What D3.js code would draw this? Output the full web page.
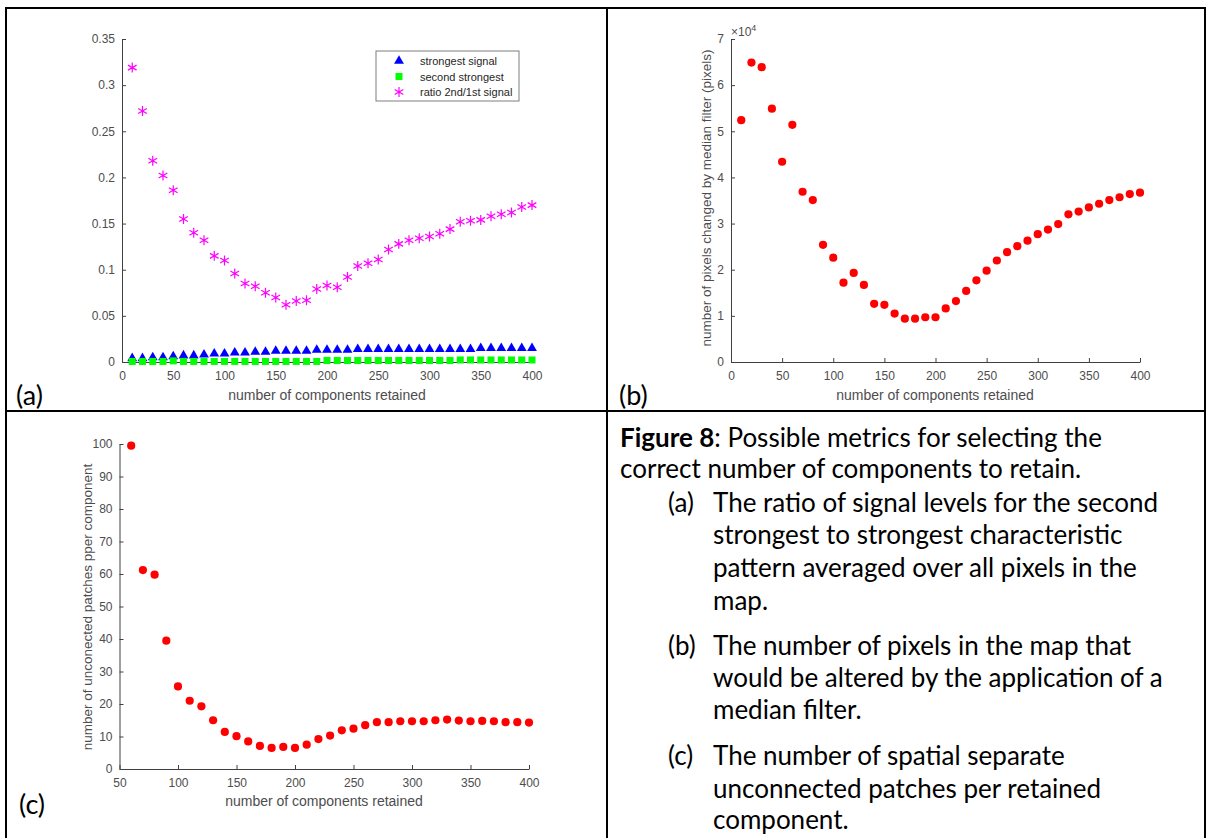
<!DOCTYPE html>
<html>
<head>
<meta charset="utf-8">
<script src="https://d3js.org/d3.v7.min.js"></script>
<style>
  body { margin: 0; background: #fff; }
  svg text { font-family: "Liberation Sans", Arial, sans-serif; }
  .tick text { fill: #4d4d4d; font-size: 12px; }
  .tick line, .domain { stroke: #404040; }
  .cap { font-family: Lato, "Open Sans", sans-serif !important; fill: #000; }
</style>
</head>
<body>
<svg id="fig" width="1207" height="838"></svg>
<script>
// ---- data: panel (a) ----
var compsA = d3.range(10, 401, 10);
var ratioA = [0.319, 0.272, 0.218, 0.202, 0.186, 0.155, 0.140, 0.132, 0.115, 0.110,
              0.096, 0.085, 0.082, 0.075, 0.070, 0.062, 0.066, 0.067, 0.079, 0.083,
              0.081, 0.092, 0.104, 0.107, 0.111, 0.122, 0.128, 0.132, 0.134, 0.136,
              0.139, 0.144, 0.152, 0.153, 0.154, 0.158, 0.160, 0.162, 0.168, 0.170];
var strongA = [0.004, 0.004, 0.005, 0.005, 0.006, 0.007, 0.007, 0.008, 0.009, 0.009,
               0.010, 0.010, 0.011, 0.011, 0.012, 0.012, 0.012, 0.012, 0.013, 0.013,
               0.013, 0.013, 0.014, 0.014, 0.014, 0.014, 0.014, 0.014, 0.014, 0.014,
               0.014, 0.014, 0.014, 0.014, 0.015, 0.015, 0.015, 0.015, 0.015, 0.015];
var secondA = [0.0006, 0.0006, 0.0006, 0.0006, 0.0012, 0.0006, 0.0006, 0.0006, 0.0006, 0.0006,
               0.0006, 0.0006, 0.0006, 0.0006, 0.0006, 0.0006, 0.0006, 0.0006, 0.0006, 0.0016,
               0.0016, 0.0016, 0.0016, 0.0016, 0.0016, 0.0016, 0.0016, 0.0016, 0.0016, 0.0016,
               0.0016, 0.0016, 0.0022, 0.0022, 0.0022, 0.0022, 0.0022, 0.0022, 0.0022, 0.0022];
var legendA = ["strongest signal", "second strongest", "ratio 2nd/1st signal"];

// ---- data: panel (b), units of 10^4 pixels ----
var compsB = d3.range(10, 401, 10);
var pixelsB = [5.24, 6.49, 6.39, 5.49, 4.34, 5.14, 3.69, 3.51, 2.54, 2.26,
               1.72, 1.93, 1.67, 1.26, 1.24, 1.05, 0.94, 0.94, 0.97, 0.97,
               1.16, 1.32, 1.54, 1.77, 1.98, 2.20, 2.38, 2.51, 2.63, 2.77,
               2.87, 2.99, 3.20, 3.26, 3.35, 3.43, 3.51, 3.57, 3.64, 3.67];

// ---- data: panel (c) ----
var compsC = d3.range(60, 401, 10);
var patchesC = [99.5, 61.2, 59.8, 39.5, 25.4, 21.0, 19.3, 15.0, 11.4, 10.1,
                8.5, 7.1, 6.5, 6.8, 6.5, 7.5, 9.2, 10.3, 11.9, 12.4,
                13.5, 14.4, 14.4, 14.7, 14.7, 14.7, 15.0, 15.2, 14.9, 14.7,
                14.8, 14.7, 14.4, 14.4, 14.3];

// caption text, one entry per printed line
var capLines = [
  { bold: "Figure 8", text: ": Possible metrics for selecting the" },
  { text: "correct number of components to retain." },
  { label: "(a)", text: "The ratio of signal levels for the second" },
  { text: "strongest to strongest characteristic" },
  { text: "pattern averaged over all pixels in the" },
  { text: "map." },
  { label: "(b)", text: "The number of pixels in the map that" },
  { text: "would be altered by the application of a" },
  { text: "median filter." },
  { label: "(c)", text: "The number of spatial separate" },
  { text: "unconnected patches per retained" },
  { text: "component." }
];
var capY = [447, 478, 512, 544, 577, 610, 655, 687, 719, 765, 798, 829];

var svg = d3.select("#fig");

// table grid
var grid = svg.append("g").attr("stroke", "#000").attr("stroke-width", 2);
grid.append("line").attr("x1", 6).attr("x2", 6).attr("y1", 7).attr("y2", 838);
grid.append("line").attr("x1", 5).attr("x2", 1206).attr("y1", 8).attr("y2", 8);
grid.append("line").attr("x1", 1205).attr("x2", 1205).attr("y1", 7).attr("y2", 838);
grid.append("line").attr("x1", 607).attr("x2", 607).attr("y1", 7).attr("y2", 838);
grid.append("line").attr("x1", 5).attr("x2", 1206).attr("y1", 411).attr("y2", 411);

function drawAxes(x, y, xTicks, yTicks, yFmt, ox, oy) {
  svg.append("g")
      .attr("transform", "translate(0," + oy + ")")
      .call(d3.axisBottom(x).tickValues(xTicks).tickSizeInner(-4).tickSizeOuter(0).tickPadding(9));
  svg.append("g")
      .attr("transform", "translate(" + ox + ",0)")
      .call(d3.axisLeft(y).tickValues(yTicks).tickFormat(yFmt).tickSizeInner(-4).tickSizeOuter(0).tickPadding(7));
}

function xLabel(cx, yy) {
  svg.append("text").attr("x", cx).attr("y", yy)
     .attr("text-anchor", "middle").attr("fill", "#4d4d4d").style("font-size", "14px")
     .text("number of components retained");
}

function yLabel(xx, cy, txt) {
  svg.append("text").attr("transform", "translate(" + xx + "," + cy + ") rotate(-90)")
     .attr("text-anchor", "middle").attr("fill", "#4d4d4d").style("font-size", "13.5px")
     .text(txt);
}

function panelTag(xx, yy, txt) {
  svg.append("text").attr("class", "cap").attr("x", xx).attr("y", yy)
     .style("font-size", "27px").text(txt);
}

// ---- panel (a) ----
var xA = d3.scaleLinear().domain([0, 400]).range([122, 532]);
var yA = d3.scaleLinear().domain([0, 0.35]).range([362, 39]);
drawAxes(xA, yA, d3.range(0, 401, 50), d3.range(0, 0.351, 0.05),
         function (d) { return String(+d.toFixed(2)); }, 122, 362);

svg.append("g").selectAll("path").data(compsA).enter().append("path")
   .attr("transform", function (d, i) { return "translate(" + xA(d) + "," + yA(strongA[i]) + ")"; })
   .attr("d", d3.symbol(d3.symbolTriangle, 42)).attr("fill", "#0000ff");
svg.append("g").selectAll("rect").data(compsA).enter().append("rect")
   .attr("x", function (d) { return xA(d) - 3.5; })
   .attr("y", function (d, i) { return yA(secondA[i]) - 3.5; })
   .attr("width", 7).attr("height", 7).attr("fill", "#00ff00");
svg.append("g").selectAll("path").data(compsA).enter().append("path")
   .attr("transform", function (d, i) { return "translate(" + xA(d) + "," + yA(ratioA[i]) + ")"; })
   .attr("d", d3.symbol(d3.symbolAsterisk, 70)).attr("fill", "none")
   .attr("stroke", "#ff00ff").attr("stroke-width", 1.2);

// legend
var lg = svg.append("g");
lg.append("rect").attr("x", 376).attr("y", 51).attr("width", 143).attr("height", 50)
  .attr("fill", "#fff").attr("stroke", "#7f7f7f");
var ly = d3.scalePoint().domain(legendA).range([61, 92]);
lg.append("path").attr("transform", "translate(399," + ly(legendA[0]) + ")")
  .attr("d", d3.symbol(d3.symbolTriangle, 42)).attr("fill", "#0000ff");
lg.append("rect").attr("x", 395.5).attr("y", ly(legendA[1]) - 3.5).attr("width", 7).attr("height", 7)
  .attr("fill", "#00ff00");
lg.append("path").attr("transform", "translate(399," + ly(legendA[2]) + ")")
  .attr("d", d3.symbol(d3.symbolAsterisk, 70)).attr("fill", "none")
  .attr("stroke", "#ff00ff").attr("stroke-width", 1.2);
lg.selectAll("text").data(legendA).enter().append("text")
  .attr("x", 420).attr("y", function (d) { return ly(d) + 4; })
  .attr("fill", "#262626").style("font-size", "11px").text(function (d) { return d; });

xLabel(327, 400);
panelTag(16, 405, "(a)");

// ---- panel (b) ----
var xB = d3.scaleLinear().domain([0, 400]).range([731, 1140]);
var yB = d3.scaleLinear().domain([0, 7]).range([362, 39]);
drawAxes(xB, yB, d3.range(0, 401, 50), d3.range(0, 8, 1), d3.format("d"), 731, 362);
svg.append("g").selectAll("circle").data(compsB).enter().append("circle")
   .attr("cx", function (d) { return xB(d); })
   .attr("cy", function (d, i) { return yB(pixelsB[i]); })
   .attr("r", 4.1).attr("fill", "#ff0000");
var ex = svg.append("text").attr("x", 731).attr("y", 36).attr("fill", "#4d4d4d").style("font-size", "12px");
ex.append("tspan").text("\u00d710");
ex.append("tspan").attr("dy", -5).style("font-size", "9px").text("4");
yLabel(711, 198, "number of pixels changed by median filter (pixels)");
xLabel(935, 400);
panelTag(619, 405, "(b)");

// ---- panel (c) ----
var xC = d3.scaleLinear().domain([50, 400]).range([119.5, 529]);
var yC = d3.scaleLinear().domain([0, 100]).range([769, 444]);
drawAxes(xC, yC, d3.range(50, 401, 50), d3.range(0, 101, 10), d3.format("d"), 119.5, 769);
svg.append("g").selectAll("circle").data(compsC).enter().append("circle")
   .attr("cx", function (d) { return xC(d); })
   .attr("cy", function (d, i) { return yC(patchesC[i]); })
   .attr("r", 4.1).attr("fill", "#ff0000");
yLabel(92, 607, "number of unconected patches pper component");
xLabel(324, 806);
panelTag(19, 814, "(c)");

// ---- caption cell ----
var cap = svg.append("g").attr("class", "capBlock");
capLines.forEach(function (ln, i) {
  var x0 = 620;
  if (ln.label) {
    cap.append("text").attr("class", "cap").attr("x", 668).attr("y", capY[i])
       .style("font-size", "26px").text(ln.label);
  }
  if (ln.label || (i > 2)) x0 = 713;
  var t = cap.append("text").attr("class", "cap").attr("x", x0).attr("y", capY[i]).style("font-size", "26px");
  if (ln.bold) t.append("tspan").style("font-weight", "bold").text(ln.bold);
  t.append("tspan").text(ln.text);
});
</script>
</body>
</html>
